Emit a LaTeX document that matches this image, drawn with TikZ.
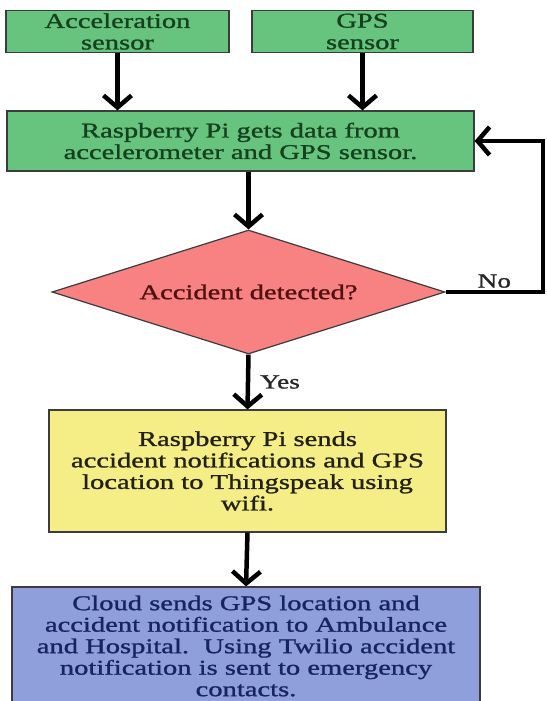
\documentclass[tikz,border=0pt]{standalone}
\usepackage{fontspec}
\setmainfont{Liberation Serif}[FakeStretch=1.36,FakeBold=1.2]
\usetikzlibrary{arrows.meta,shapes.geometric}
\definecolor{Leaf}{HTML}{66C47E}
\definecolor{LeafInk}{HTML}{17401F}
\definecolor{Coral}{HTML}{F88181}
\definecolor{CoralInk}{HTML}{4E1212}
\definecolor{Lemon}{HTML}{F5EE86}
\definecolor{LemonInk}{HTML}{222214}
\definecolor{Iris}{HTML}{8E9FDC}
\definecolor{IrisInk}{HTML}{182363}
\definecolor{Edge}{HTML}{3C3C3C}

\begin{document}
\begin{tikzpicture}[x=1pt,y=-1pt,
  box/.style={draw=Edge,line width=1.2pt,align=center,inner sep=0pt,
    font=\fontsize{21}{21.5}\selectfont},
  arrow/.style={-{Straight Barb[length=12pt,width=28pt]},line width=4.5pt},
  lbl/.style={font=\fontsize{20}{21}\selectfont,text=black!85,inner sep=2pt}]
\useasboundingbox (0,0) rectangle (546,701);
\node[box,fill=Leaf,text=LeafInk,minimum width=223pt,minimum height=42pt](accel) at (117.5,31.5){Acceleration\\sensor};
\node[box,fill=Leaf,text=LeafInk,minimum width=221pt,minimum height=42pt](gps) at (362.5,31.5){GPS\\sensor};
\node[box,fill=Leaf,text=LeafInk,minimum width=467pt,minimum height=60pt](rpi) at (240.5,141){Raspberry Pi gets data from\\accelerometer and GPS sensor.};
\node[box,diamond,aspect=3.17,fill=Coral,text=CoralInk,minimum width=393pt,minimum height=124pt](dec) at (248.5,292){Accident detected?};
\node[box,fill=Lemon,text=LemonInk,minimum width=397pt,minimum height=122pt](send) at (247.5,471){Raspberry Pi sends\\accident notifications and GPS\\location to Thingspeak using\\wifi.};
\node[box,fill=Iris,text=IrisInk,minimum width=468pt,minimum height=118pt](cloud) at (246,646){Cloud sends GPS location and\\accident notification to Ambulance\\and Hospital.\ \ Using Twilio accident\\notification is sent to emergency\\contacts.};
\coordinate (turn) at (543,292);
\draw[arrow](accel.south)--(accel.south |- rpi.north);
\draw[arrow](gps.south)--(gps.south |- rpi.north);
\draw[arrow](dec.north |- rpi.south)--(dec.north);
\draw[arrow](dec.south)--node[lbl,right=8pt]{Yes}(send.north);
\draw[arrow](send.south)--(cloud.north);
\draw[arrow](dec.east)--node[lbl,above]{No}(turn)|-(rpi.east);
\end{tikzpicture}
\end{document}
